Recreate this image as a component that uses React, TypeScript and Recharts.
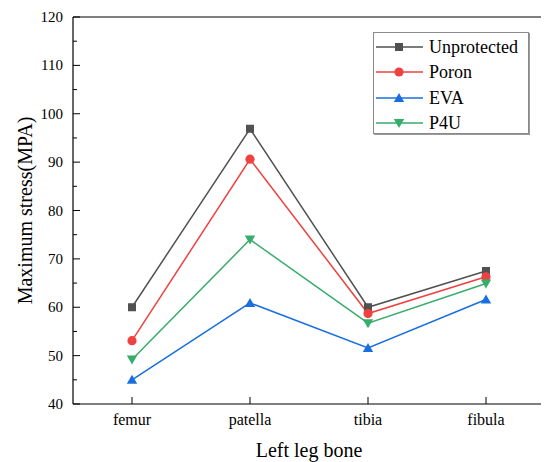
import React from 'react';
import { LineChart, Line, XAxis, YAxis, ReferenceLine } from 'recharts';

const bones = ['femur', 'patella', 'tibia', 'fibula'];
const unprotected = [60.0, 96.9, 60.0, 67.5];
const poron = [53.1, 90.6, 58.7, 66.3];
const eva = [45.0, 60.9, 51.6, 61.6];
const p4u = [49.2, 74.0, 56.7, 64.9];
const yTicks = [40, 45, 50, 55, 60, 65, 70, 75, 80, 85, 90, 95, 100, 105, 110, 115, 120];
const seriesNames = ['Unprotected', 'Poron', 'EVA', 'P4U'];
const seriesColors = ['#515151', '#F14040', '#1A6FDF', '#37AD6B'];
const seriesShapes = ['square', 'circle', 'up', 'down'];
const seriesValues = [unprotected, poron, eva, p4u];

const data = bones.map((b, i) => {
  const row: Record<string, any> = { bone: b };
  seriesNames.forEach((n, j) => {
    row[n] = seriesValues[j][i];
  });
  return row;
});

const FONT = 'Liberation Serif, Times New Roman, serif';

function Marker({ cx, cy, shape, color }: any) {
  if (cx == null || cy == null) return null;
  switch (shape) {
    case 'square':
      return <rect x={cx - 4} y={cy - 4} width={8} height={8} fill={color} />;
    case 'circle':
      return <circle cx={cx} cy={cy} r={4.6} fill={color} />;
    case 'up':
      return <polygon points={`${cx},${cy - 5} ${cx - 5.2},${cy + 4} ${cx + 5.2},${cy + 4}`} fill={color} />;
    case 'down':
      return <polygon points={`${cx},${cy + 5} ${cx - 5.2},${cy - 4} ${cx + 5.2},${cy - 4}`} fill={color} />;
    default:
      return null;
  }
}

const XTick = (props: any) => {
  const { x, y, payload } = props;
  return (
    <g>
      <line x1={x} x2={x} y1={y} y2={y - 7} stroke="#000" strokeWidth={1} />
      <text x={x} y={y + 21} textAnchor="middle" fontSize={16} fontFamily={FONT} fill="#000">
        {payload.value}
      </text>
    </g>
  );
};

const YTick = (props: any) => {
  const { x, y, payload } = props;
  const major = payload.value % 10 === 0;
  return (
    <g>
      <line x1={x} x2={x + (major ? 7 : 4)} y1={y} y2={y} stroke="#000" strokeWidth={1} />
      {major && (
        <text x={x - 10} y={y + 5} textAnchor="end" fontSize={15} fontFamily={FONT} fill="#000">
          {payload.value}
        </text>
      )}
    </g>
  );
};

const YTitle = (props: any) => {
  const vb = props.viewBox || {};
  const cx = 17;
  const cy = vb.y + vb.height / 2;
  return (
    <text
      x={cx}
      y={cy}
      transform={`rotate(-90 ${cx} ${cy})`}
      textAnchor="middle"
      dominantBaseline="central"
      fontSize={20}
      fontFamily={FONT}
      fill="#000"
    >
      Maximum stress(MPA)
    </text>
  );
};

const XTitle = (props: any) => {
  const vb = props.viewBox || {};
  const cx = vb.x + vb.width / 2;
  return (
    <text x={cx} y={vb.y + 53} textAnchor="middle" fontSize={20} fontFamily={FONT} fill="#000">
      Left leg bone
    </text>
  );
};

const LegendBox = () => (
  <div
    style={{
      position: 'absolute',
      left: 365,
      top: 24,
      width: 156,
      height: 102,
      border: '1px solid #8a8a8a',
      boxShadow: '1px 1px 0 #9a9a9a',
      background: '#fff',
      boxSizing: 'border-box',
    }}
  >
    {seriesNames.map((n, i) => (
      <div
        key={n}
        style={{
          position: 'absolute',
          left: 1,
          top: 2 + i * 25.3,
          height: 24,
          display: 'flex',
          alignItems: 'center',
        }}
      >
        <svg width={48} height={24} style={{ display: 'block' }}>
          <line x1={1} x2={48} y1={12} y2={12} stroke={seriesColors[i]} strokeWidth={1.5} />
          <Marker cx={24} cy={12} shape={seriesShapes[i]} color={seriesColors[i]} />
        </svg>
        <span
          style={{
            marginLeft: 6,
            fontFamily: FONT,
            fontSize: 18,
            color: '#000',
            lineHeight: '24px',
            whiteSpace: 'nowrap',
          }}
        >
          {n}
        </span>
      </div>
    ))}
  </div>
);

export default function App() {
  return (
    <div style={{ position: 'relative', width: 541, height: 454 }}>
      <LineChart width={541} height={454} data={data} margin={{ top: 9, right: 4, left: 0, bottom: 0 }}>
        <XAxis
          dataKey="bone"
          scale="band"
          height={58}
          tickSize={0}
          tickMargin={0}
          tickLine={false}
          tick={<XTick />}
          interval={0}
          axisLine={{ stroke: '#000', strokeWidth: 1.2 }}
          label={<XTitle />}
        />
        <YAxis
          type="number"
          domain={[40, 120]}
          ticks={yTicks}
          interval={0}
          width={65}
          tickSize={0}
          tickMargin={0}
          tickLine={false}
          tick={<YTick />}
          axisLine={{ stroke: '#000', strokeWidth: 1.2 }}
          label={<YTitle />}
        />
        <ReferenceLine y={120} stroke="#000" strokeWidth={1.2} />
        <ReferenceLine x="fibula" position="end" stroke="#555" strokeWidth={1.2} />
        {seriesNames.map((n, i) => (
          <Line
            key={n}
            dataKey={n}
            stroke={seriesColors[i]}
            strokeWidth={1.5}
            isAnimationActive={false}
            dot={(p: any) => (
              <Marker key={`${n}-${p.index}`} cx={p.cx} cy={p.cy} shape={seriesShapes[i]} color={seriesColors[i]} />
            )}
            activeDot={false}
          />
        ))}
      </LineChart>
      <LegendBox />
    </div>
  );
}
